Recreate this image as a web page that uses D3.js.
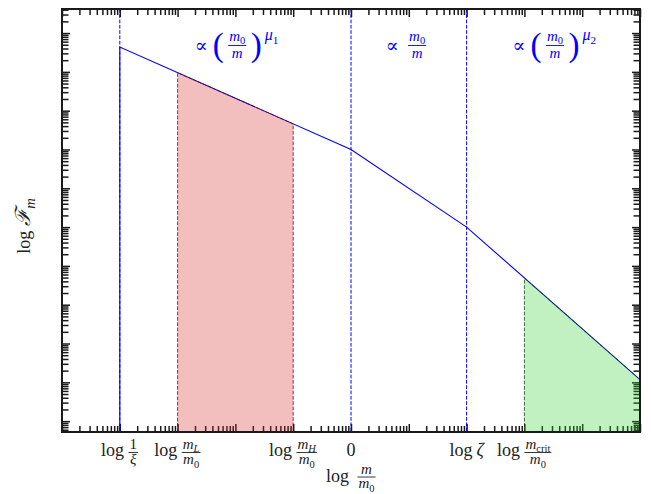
<!DOCTYPE html>
<html><head><meta charset="utf-8">
<script src="https://cdn.jsdelivr.net/npm/d3@7"></script>
<style>body{margin:0;background:#fff}svg{display:block}</style>
</head><body>
<svg id="c" width="651" height="494"></svg>
<script>
// ---------------- data ----------------
const xDomain = [1e-5, 1e5];                       // m / m0
const yDomain = [Math.pow(10, -0.28), Math.pow(10, 10.62)];
const massBreaks = [1e-4, 1, 1e2, 1e5];            // 1/xi, m0, zeta, right edge
const fluxBreaks = [4.37e9, 1e7, 1e5, 11.7];       // F_m at the breaks
const vlineMasses = [1e-4, 1, 1e2];                // dashed guides
const pinkRange = [1e-3, 1e-1];                    // m_L .. m_H
const greenRange = [1e3, 1e5];                     // m_crit .. edge
const xTickMasses = [1e-4, 1e-3, 1e-1, 1, 1e2, 1e3];
const xTickLabels = [
  {pre: "log", num: [["1", "r"]], den: [["ξ", "i"]]},
  {pre: "log", num: [["m", "i"], ["L", "si"]], den: [["m", "i"], ["0", "sr"]]},
  {pre: "log", num: [["m", "i"], ["H", "si"]], den: [["m", "i"], ["0", "sr"]]},
  {text: [["0", "r"]]},
  {pre: "log", text: [["ζ", "i"]]},
  {pre: "log", num: [["m", "i"], ["crit", "sr"]], den: [["m", "i"], ["0", "sr"]]}
];
const annotCenters = [1.05e-2, 9, 3.3e3];
const annotLabels = [
  {paren: true, exp: [["μ", "i"], ["1", "sr"]]},
  {paren: false},
  {paren: true, exp: [["μ", "i"], ["2", "sr"]]}
];

// ---------------- setup ----------------
const FONT = "'Liberation Serif','DejaVu Serif',serif";
const BLUE = "#0000ff";
const INK = "#1a1a1a";
const L = 62, R = 640, T = 9, B = 432;
const svg = d3.select("#c").attr("font-family", FONT);
const x = d3.scaleLog().domain(xDomain).range([L, R]);
const y = d3.scaleLog().domain(yDomain).range([B, T]);

function fluxAt(m) {
  for (let i = 0; i < massBreaks.length - 1; i++) {
    if (m >= massBreaks[i] - 1e-12 && m <= massBreaks[i + 1] * (1 + 1e-12)) {
      const t = Math.log(m / massBreaks[i]) / Math.log(massBreaks[i + 1] / massBreaks[i]);
      return Math.exp(Math.log(fluxBreaks[i]) + t * Math.log(fluxBreaks[i + 1] / fluxBreaks[i]));
    }
  }
  return NaN;
}

// ---------------- ticks ----------------
function logTicks(dom) {
  const major = [], minor = [];
  const k0 = Math.floor(Math.log10(dom[0])) - 1, k1 = Math.ceil(Math.log10(dom[1])) + 1;
  for (let k = k0; k <= k1; k++) for (let j = 1; j <= 9; j++) {
    const v = j * Math.pow(10, k);
    if (v >= dom[0] * 0.9999 && v <= dom[1] * 1.0001) (j === 1 ? major : minor).push(v);
  }
  return {major, minor};
}
const xt = logTicks(xDomain), yt = logTicks(yDomain);
const axes = svg.append("g").attr("class", "ticks");
function drawAxis(axisFn, scale, vals, size, tr) {
  const g = axes.append("g").attr("transform", tr)
    .call(axisFn(scale).tickValues(vals).tickSize(-size).tickFormat(""));
  g.select(".domain").remove();
  g.selectAll("line").attr("stroke", INK).attr("stroke-width", 1.5);
}
[[xt.major, 8], [xt.minor, 6]].forEach(([v, s]) => {
  drawAxis(d3.axisBottom, x, v, s, `translate(0,${B})`);
  drawAxis(d3.axisTop, x, v, s, `translate(0,${T})`);
});
[[yt.major, 8], [yt.minor, 6.5]].forEach(([v, s]) => {
  drawAxis(d3.axisLeft, y, v, s, `translate(${L},0)`);
  drawAxis(d3.axisRight, y, v, s, `translate(${R},0)`);
});

// ---------------- lines ----------------
svg.append("defs").append("clipPath").attr("id", "clip")
  .append("rect").attr("x", L).attr("y", T).attr("width", R - L).attr("height", B - T);
const plot = svg.append("g").attr("clip-path", "url(#clip)");

plot.selectAll("line.vl").data(vlineMasses).join("line").attr("class", "vl")
  .attr("x1", d => x(d)).attr("x2", d => x(d)).attr("y1", T).attr("y2", B)
  .attr("stroke", BLUE).attr("stroke-width", 1).attr("stroke-dasharray", "3.7,1.6");

const pts = [[massBreaks[0], yDomain[0]]].concat(massBreaks.map((m, i) => [m, fluxBreaks[i]]));
const lineGen = d3.line().x(d => x(d[0])).y(d => y(d[1]));
plot.append("path").attr("d", lineGen(pts)).attr("fill", "none")
  .attr("stroke", BLUE).attr("stroke-width", 1.1);

function region(range, fill, edge) {
  const inner = massBreaks.filter(m => m > range[0] && m < range[1]);
  const ms = [range[0]].concat(inner, [range[1]]);
  const poly = [[range[0], yDomain[0]]].concat(ms.map(m => [m, fluxAt(m)]), [[range[1], yDomain[0]]]);
  plot.append("path").attr("d", lineGen(poly) + "Z")
    .attr("fill", fill).attr("stroke", edge).attr("stroke-width", 1)
    .attr("stroke-dasharray", "3.7,1.6");
}
region(pinkRange, "rgba(214,39,40,0.3)", "rgba(90,10,10,0.75)");
region(greenRange, "rgba(50,205,50,0.3)", "rgba(10,60,10,0.75)");

// frame
svg.append("rect").attr("x", L).attr("y", T).attr("width", R - L).attr("height", B - T)
  .attr("fill", "none").attr("stroke", INK).attr("stroke-width", 2);

// ---------------- math text helpers ----------------
function addRun(g, parts, px, py, size, color, fam, subShift = 0.28) {
  const t = g.append("text").attr("x", px).attr("y", py).attr("font-size", size)
    .attr("fill", color || "#222");
  if (fam) t.attr("font-family", fam);
  let shift = 0;
  for (const [s, st] of parts) {
    const ts = t.append("tspan").text(s);
    let target = 0, fs = size;
    if (st[0] === "s") { target = size * subShift; fs = size * 0.7; }
    else if (st[0] === "p") { target = -size * 0.4; fs = size * 0.7; }
    ts.attr("font-size", fs);
    if (st.endsWith("i")) ts.attr("font-style", "italic");
    if (target !== shift) { ts.attr("dy", target - shift); shift = target; }
  }
  return {sel: t, w: t.node().getComputedTextLength()};
}
function addFrac(g, num, den, px, barY, size, color, up = 3.5, down = 11.5) {
  const n = addRun(g, num, 0, barY - up, size, color, null, 0.2);
  const d = addRun(g, den, 0, barY + down, size, color);
  const W = Math.max(n.w, d.w) + 3;
  n.sel.attr("x", px + (W - n.w) / 2);
  d.sel.attr("x", px + (W - d.w) / 2);
  g.append("line").attr("x1", px + 0.5).attr("x2", px + W - 0.5)
    .attr("y1", barY).attr("y2", barY).attr("stroke", color || "#222").attr("stroke-width", 0.9);
  return W;
}
function row(parent, items, cx) {
  const g = parent.append("g");
  let cur = 0;
  items.forEach(it => { cur += it(g, cur); });
  g.attr("transform", `translate(${cx - cur / 2},0)`);
  return g;
}
const Tx = (parts, py, size, color, gap = 0, fam) => (g, px) => addRun(g, parts, px, py, size, color, fam).w + gap;
const Fr = (num, den, barY, size, color, gap = 0, up, down) => (g, px) => addFrac(g, num, den, px, barY, size, color, up, down) + gap;

// ---------------- x tick labels ----------------
const labG = svg.append("g");
xTickLabels.forEach((lab, i) => {
  const items = [];
  if (lab.pre) items.push(Tx([[lab.pre, "r"]], 456, 18, "#222", 4));
  if (lab.num) items.push(Fr(lab.num, lab.den, 452.5, 15, "#222", 0, 3.5, 11.5));
  if (lab.text) items.push(Tx(lab.text, 456, 18, "#222"));
  row(labG, items, x(xTickMasses[i]));
});

// x axis label
row(svg, [Tx([["log", "r"]], 481.5, 18, "#222", 8),
          Fr([["m", "i"]], [["m", "i"], ["0", "sr"]], 477, 15, "#222", 0, 3.5, 10.5)], 351);

// y axis label
const yl = svg.append("g").attr("transform", "translate(29.5,226) rotate(-90)");
row(yl, [Tx([["log", "r"]], 0, 18, "#222", 5),
         Tx([["ℱ", "i"], ["m", "si"]], 0, 21, "#222")], 0);

// ---------------- annotations ----------------
const m0m = [[["m", "i"], ["0", "sr"]], [["m", "i"]]];
const SYMF = "'DejaVu Serif',serif";
annotLabels.forEach((a, i) => {
  const items = [Tx([["∝", "r"]], 52, 19, BLUE, a.paren ? 5 : 9, SYMF)];
  if (a.paren) items.push(Tx([["(", "r"]], 56, 33, BLUE, 4));
  items.push(Fr(m0m[0], m0m[1], 45.5, 15, BLUE, a.paren ? 4 : 0, 4.5, 12.5));
  if (a.paren) {
    items.push(Tx([[")", "r"]], 56, 33, BLUE, 3));
    items.push(Tx(a.exp, 40, 16, BLUE));
  }
  row(svg, items, x(annotCenters[i]));
});
</script>
</body></html>
